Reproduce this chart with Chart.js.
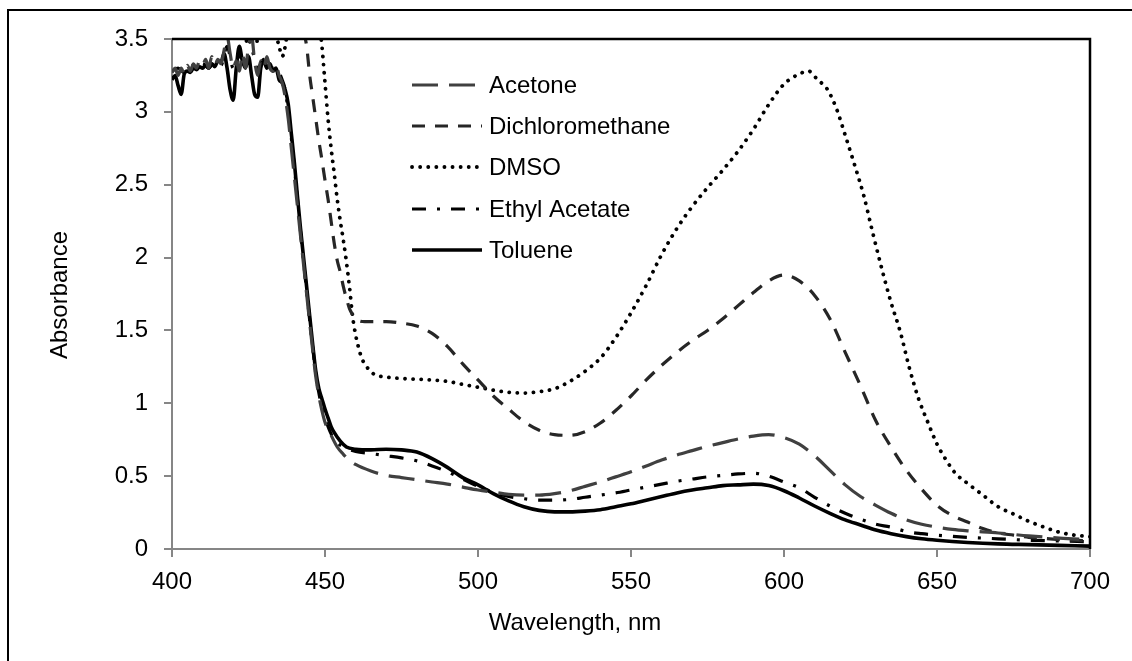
<!DOCTYPE html>
<html><head><meta charset="utf-8">
<script src="https://cdn.jsdelivr.net/npm/chart.js@4.4.1/dist/chart.umd.min.js"></script>
<style>html,body{margin:0;padding:0;background:#fff;}#wrap{width:1132px;height:661px;position:relative;}</style>
</head><body><div id="wrap"><canvas id="c" width="1132" height="661"></canvas></div>
<script>
// ---------- data ----------
const xTickValues = [400, 450, 500, 550, 600, 650, 700];
const yTickValues = [0, 0.5, 1, 1.5, 2, 2.5, 3, 3.5];
const seriesNames = ['Acetone', 'Dichloromethane', 'DMSO', 'Ethyl Acetate', 'Toluene'];

const acetoneNm = [400,401,402,403,404,405,406,407,408,409,410,411,412,413,414,415,416,417,418,419,420,421,422,423,424,425,426,427,428,429,430,431,432,433,434,435,436,
  437,438,439,440,441,442,443,444,445,446,447,448,449,450,452,454,456,458,460,
  465,470,475,480,485,490,495,500,505,510,515,520,525,530,535,540,545,550,555,560,565,570,575,580,585,590,595,600,605,610,615,620,625,630,635,640,645,650,
  655,660,670,680,690,700];
const acetoneAbs = [3.27,3.30,3.25,3.30,3.26,3.32,3.28,3.33,3.30,3.35,3.32,3.36,3.30,3.38,3.32,3.36,3.33,3.42,3.52,3.40,3.30,3.35,3.28,3.40,3.30,3.45,3.52,3.35,3.25,3.35,3.30,3.38,3.30,3.28,3.32,3.25,3.20,
  3.10,2.95,2.75,2.55,2.35,2.15,1.95,1.75,1.55,1.36,1.18,1.05,0.95,0.87,0.78,0.70,0.65,0.61,0.58,
  0.535,0.505,0.49,0.475,0.46,0.445,0.425,0.405,0.39,0.375,0.37,0.37,0.38,0.40,0.43,0.46,0.495,0.53,0.57,0.61,0.645,0.675,0.705,0.73,0.755,0.775,0.785,0.765,0.72,0.64,0.54,0.44,0.36,0.30,0.245,0.20,0.17,0.15,
  0.135,0.125,0.11,0.09,0.075,0.065];

const dcmNm = [440,442,443,444,445,446,447,448,449,450,451,452,453,454,455,456,457,458,459,460,463,466,470,
  475,480,485,490,495,500,505,510,515,520,525,530,535,540,545,550,555,560,565,570,575,580,585,590,595,600,605,610,615,620,625,630,635,640,645,650,655,660,665,670,675,680,685,690,695,700];
const dcmAbs = [3.70,3.60,3.55,3.45,3.25,3.10,2.95,2.80,2.67,2.53,2.40,2.25,2.10,1.98,1.90,1.80,1.72,1.65,1.61,1.58,1.56,1.56,1.56,
  1.55,1.53,1.48,1.39,1.27,1.16,1.05,0.96,0.875,0.815,0.785,0.78,0.805,0.865,0.95,1.05,1.16,1.26,1.35,1.43,1.50,1.58,1.67,1.76,1.84,1.88,1.84,1.74,1.58,1.35,1.12,0.88,0.70,0.54,0.41,0.30,0.23,0.185,0.14,0.11,0.095,0.08,0.072,0.065,0.06,0.055];

const dmsoNm = [420,423,425,427,428,430,433,435,436,437,438,440,445,448,449,450,451,452,453,454,455,456,457,458,459,460,461,462,464,466,470,
  475,480,485,490,495,500,505,510,515,520,525,530,535,540,545,550,555,560,565,570,575,580,585,590,595,600,605,608,611,614,617,620,623,626,629,632,635,638,641,644,647,650,653,656,660,665,670,675,680,685,690,695,700];
const dmsoAbs = [3.75,3.60,3.46,3.62,3.47,3.70,3.60,3.45,3.38,3.45,3.60,3.80,3.90,3.62,3.45,3.20,2.95,2.75,2.58,2.40,2.25,2.12,1.97,1.80,1.60,1.47,1.38,1.31,1.24,1.20,1.18,
  1.17,1.165,1.16,1.15,1.13,1.11,1.09,1.075,1.07,1.08,1.10,1.15,1.22,1.31,1.45,1.62,1.81,2.02,2.20,2.35,2.48,2.60,2.73,2.88,3.05,3.19,3.26,3.28,3.22,3.16,3.03,2.84,2.64,2.43,2.17,1.92,1.69,1.49,1.24,1.03,0.87,0.72,0.61,0.52,0.45,0.37,0.29,0.24,0.19,0.15,0.115,0.095,0.085];

const ethylNm = [400,402,404,406,408,410,412,414,416,418,420,422,424,426,428,430,432,434,436,
  437,438,439,440,441,442,443,444,445,446,447,448,449,450,452,454,456,460,
  465,470,475,480,485,490,495,500,505,510,515,520,525,530,535,540,545,550,555,560,565,570,575,580,585,590,595,600,605,610,615,620,625,630,635,640,645,650,
  660,670,680,690,700];
const ethylAbs = [3.28,3.30,3.27,3.32,3.30,3.33,3.30,3.35,3.32,3.45,3.30,3.38,3.35,3.42,3.30,3.36,3.30,3.30,3.22,
  3.15,3.00,2.82,2.62,2.40,2.18,1.97,1.77,1.57,1.38,1.20,1.07,0.97,0.90,0.79,0.73,0.70,0.67,
  0.655,0.64,0.625,0.605,0.57,0.53,0.48,0.43,0.39,0.36,0.345,0.335,0.335,0.34,0.355,0.37,0.385,0.405,0.425,0.445,0.465,0.48,0.495,0.505,0.515,0.52,0.50,0.46,0.42,0.355,0.295,0.245,0.205,0.17,0.15,0.12,0.105,0.095,
  0.08,0.07,0.06,0.055,0.05];

const tolueneNm = [400,401,402,403,404,405,406,407,408,409,410,411,412,413,414,415,416,417,418,419,420,421,422,423,424,425,426,427,428,429,430,431,432,433,434,435,436,437,
  438,439,440,441,442,443,444,445,446,447,448,449,450,451,452,453,455,457,460,
  465,470,475,480,485,490,495,500,505,510,515,520,525,530,535,540,545,550,555,560,565,570,575,580,585,590,595,600,605,610,615,620,625,630,635,640,645,650,
  660,670,680,690,700];
const tolueneAbs = [3.22,3.25,3.18,3.12,3.26,3.28,3.27,3.30,3.29,3.31,3.30,3.32,3.30,3.33,3.31,3.35,3.34,3.40,3.30,3.15,3.08,3.30,3.45,3.35,3.30,3.38,3.25,3.12,3.10,3.30,3.35,3.30,3.33,3.28,3.30,3.22,3.20,3.15,
  3.05,2.85,2.65,2.42,2.20,2.00,1.80,1.60,1.40,1.22,1.10,1.03,0.96,0.90,0.84,0.80,0.74,0.70,0.685,
  0.68,0.685,0.68,0.665,0.62,0.56,0.49,0.44,0.38,0.33,0.29,0.265,0.255,0.255,0.26,0.27,0.29,0.31,0.335,0.36,0.385,0.405,0.42,0.435,0.44,0.445,0.435,0.40,0.35,0.295,0.245,0.20,0.165,0.13,0.105,0.085,0.07,0.06,
  0.045,0.035,0.03,0.025,0.02];

// ---------- chart ----------
const FONT = "'Liberation Sans', Arial, sans-serif";
Chart.defaults.font.family = FONT;
Chart.defaults.color = '#000';

function pts(xs, ys) { return xs.map((x, i) => ({x: x, y: ys[i]})); }

const styles = [
  {color: '#404040', width: 3.2, dash: [26, 11], cap: 'butt'},
  {color: '#262626', width: 3.2, dash: [13, 10], cap: 'butt'},
  {color: '#000000', width: 3.8, dash: [0.1, 8], cap: 'round'},
  {color: '#000000', width: 3.2, dash: [14, 11, 3, 11], cap: 'butt'},
  {color: '#000000', width: 3.6, dash: [], cap: 'butt'}
];
const seriesData = [pts(acetoneNm, acetoneAbs), pts(dcmNm, dcmAbs), pts(dmsoNm, dmsoAbs), pts(ethylNm, ethylAbs), pts(tolueneNm, tolueneAbs)];

const datasets = seriesNames.map((n, i) => ({
  label: n,
  data: seriesData[i],
  borderColor: styles[i].color,
  borderWidth: styles[i].width,
  borderDash: styles[i].dash,
  borderCapStyle: styles[i].cap,
  borderJoinStyle: 'round',
  pointRadius: 0,
  fill: false,
  cubicInterpolationMode: 'monotone'
}));

const decor = {
  id: 'decor',
  afterDatasetsDraw(chart) {
    const ctx = chart.ctx, a = chart.chartArea;
    ctx.save();
    ctx.strokeStyle = '#000'; ctx.lineWidth = 2.5; ctx.setLineDash([]);
    ctx.beginPath(); ctx.moveTo(a.left, a.top); ctx.lineTo(a.right, a.top); ctx.lineTo(a.right, a.bottom); ctx.stroke();
    ctx.lineWidth = 2;
    ctx.beginPath(); ctx.moveTo(8, 661); ctx.lineTo(8, 10); ctx.lineTo(1132, 10); ctx.stroke();
    const rows = [85, 126, 167, 209, 250];
    ctx.font = '24px ' + FONT; ctx.fillStyle = '#000'; ctx.textBaseline = 'middle'; ctx.textAlign = 'left';
    seriesNames.forEach((n, i) => {
      const s = styles[i];
      ctx.strokeStyle = s.color; ctx.lineWidth = s.width; ctx.lineCap = s.cap; ctx.setLineDash(s.dash);
      ctx.beginPath(); ctx.moveTo(412, rows[i]); ctx.lineTo(482, rows[i]); ctx.stroke();
      ctx.fillText(n, 489, rows[i] + 1);
    });
    ctx.setLineDash([]);
    ctx.textAlign = 'center'; ctx.textBaseline = 'alphabetic';
    ctx.fillText('Wavelength, nm', 575, 630);
    ctx.translate(67, 295); ctx.rotate(-Math.PI / 2);
    ctx.fillText('Absorbance', 0, 0);
    ctx.restore();
  }
};

new Chart(document.getElementById('c'), {
  type: 'line',
  data: {datasets: datasets},
  plugins: [decor],
  options: {
    responsive: false,
    animation: false,
    events: [],
    layout: {padding: {top: 39, right: 42, left: 0, bottom: 0}},
    plugins: {legend: {display: false}, tooltip: {enabled: false}},
    scales: {
      x: {
        type: 'linear', min: 400, max: 700,
        afterBuildTicks: s => { s.ticks = xTickValues.map(v => ({value: v})); },
        afterFit: s => { s.height = 112; },
        ticks: {font: {size: 24}, color: '#000', padding: 11, maxRotation: 0},
        grid: {drawOnChartArea: false, drawTicks: true, tickLength: 8, color: '#868686', lineWidth: 2},
        border: {display: true, color: '#868686', width: 2}
      },
      y: {
        type: 'linear', min: 0, max: 3.5,
        afterBuildTicks: s => { s.ticks = yTickValues.map(v => ({value: v})); },
        afterFit: s => { s.width = 172; },
        ticks: {font: {size: 24}, color: '#000', padding: 16, callback: v => String(v)},
        grid: {drawOnChartArea: false, drawTicks: true, tickLength: 8, color: '#868686', lineWidth: 2},
        border: {display: true, color: '#868686', width: 2}
      }
    }
  }
});
</script></body></html>
